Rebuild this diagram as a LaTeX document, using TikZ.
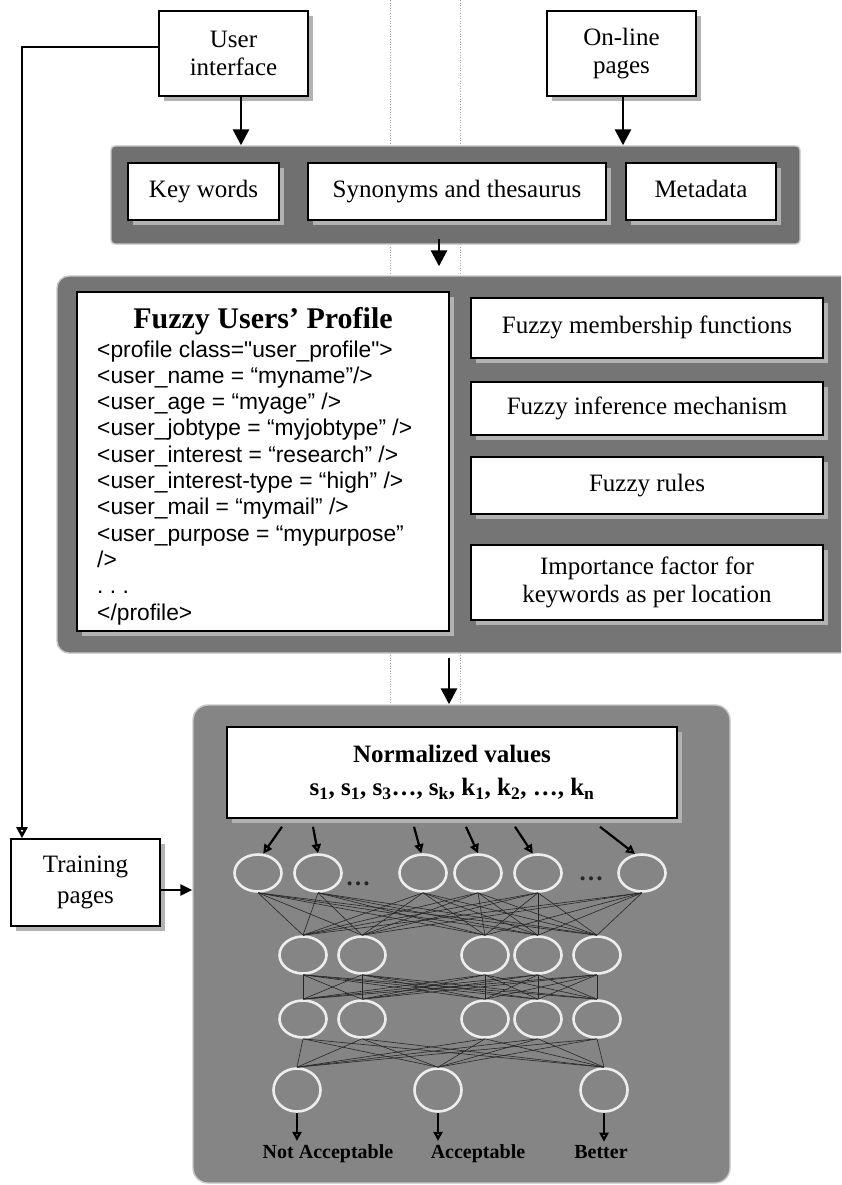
\documentclass[tikz,border=0pt]{standalone}
\usepackage{fontspec}
\setmainfont{Liberation Serif}
\newfontfamily\arialfont{Liberation Sans}
\usetikzlibrary{arrows.meta,shapes.geometric,shadows,calc}
\definecolor{panelA}{gray}{0.44}
\definecolor{panelB}{gray}{0.46}
\definecolor{panelC}{gray}{0.52}
\definecolor{shade}{gray}{0.70}
\definecolor{rim}{gray}{0.78}
\definecolor{ring}{gray}{0.93}
\tikzset{
  box/.style={draw=black, line width=1.6pt, fill=white, inner sep=0pt, align=center,
    font=\fontsize{25pt}{28.75pt}\selectfont,
    drop shadow={shadow xshift=5pt, shadow yshift=-5pt, fill=shade, opacity=1}},
  sline/.style={text height=17pt, text depth=6pt},
  panel/.style={draw=rim, line width=1.4pt, inner sep=0pt},
  neuron/.style={ellipse, draw=ring, line width=2.6pt, minimum width=47pt, minimum height=37pt, inner sep=0pt},
  outneuron/.style={neuron, minimum height=43pt},
  bigarrow/.style={line width=2.8pt, -{Triangle[width=16pt,length=16pt]}},
  medarrow/.style={line width=2.6pt, -{Triangle[width=11pt,length=12pt]}},
  openarrow/.style={line width=2.6pt, -{Triangle[open,width=11pt,length=11pt]}},
  smallarrow/.style={line width=2.2pt, -{Triangle[open,width=9pt,length=9pt]}},
  conn/.style={line width=0.6pt, draw=black!85},
  guide/.style={draw=black!35, line width=0.6pt, dotted},
  outlab/.style={font=\bfseries\fontsize{20pt}{22pt}\selectfont, inner sep=0pt, anchor=base},
  profline/.style={font=\arialfont\fontsize{22.8pt}{26.3pt}\selectfont, anchor=base west, inner sep=0pt},
  dotsnode/.style={font=\bfseries\fontsize{25pt}{25pt}\selectfont, inner sep=0pt, text=black!85}
}
\begin{document}
\begin{tikzpicture}[x=1pt,y=-1pt]
\path[use as bounding box] (0,0) rectangle (841,1185);
\clip (0,0) rectangle (841,1185);
\fill[white] (0,0) rectangle (841,1185);

% page guide lines
\draw[guide] (390,0) -- (390,705);
\draw[guide] (460,0) -- (460,705);

% panels
\node[panel, fill=panelA, rounded corners=4pt, minimum width=689pt, minimum height=98pt] (p1) at (455.5,195) {};
\node[panel, fill=panelB, rounded corners=12pt, minimum width=799pt, minimum height=377pt] (p2) at (456.5,464.5) {};
\node[panel, fill=panelC, rounded corners=15pt, minimum width=537pt, minimum height=478pt] (p3) at (461.5,944) {};

% top boxes
\node[box, minimum width=149pt, minimum height=85pt] (ui) at (233.5,53.5) {User\\interface};
\node[box, minimum width=149pt, minimum height=85pt] (ol) at (621.5,53.5) {On-line\\pages};

% panel 1 boxes
\node[box, sline, minimum width=151pt, minimum height=57pt] (kw) at (203.5,191.5) {Key words};
\node[box, sline, minimum width=298pt, minimum height=57pt] (syn) at (457,191.5) {Synonyms and thesaurus};
\node[box, sline, minimum width=150pt, minimum height=57pt] (meta) at (701,191.5) {Metadata};

% panel 2 boxes
\node[box, minimum width=372pt, minimum height=339pt] (prof) at (263,461.5) {};
\node[font=\bfseries\fontsize{30pt}{34pt}\selectfont, anchor=base, inner sep=0pt] (ptitle) at (263,328) {Fuzzy Users’ Profile};
\node[profline] (pl1) at (97,357) {<profile class="user\_profile">};
\node[profline] (pl2) at (97,383.3) {<user\_name = “myname”/>};
\node[profline] (pl3) at (97,409.6) {<user\_age = “myage” />};
\node[profline] (pl4) at (97,435.9) {<user\_jobtype = “myjobtype” />};
\node[profline] (pl5) at (97,462.2) {<user\_interest = “research” />};
\node[profline] (pl6) at (97,488.5) {<user\_interest-type = “high” />};
\node[profline] (pl7) at (97,514.8) {<user\_mail = “mymail” />};
\node[profline] (pl8) at (97,541.1) {<user\_purpose = “mypurpose”};
\node[profline] (pl9) at (97,567.4) {/>};
\node[profline] (pl10) at (97,593.7) {.\ .\ .};
\node[profline] (pl11) at (97,620) {</profile>};

\node[box, sline, minimum width=352pt, minimum height=60pt] (fm) at (647,328) {Fuzzy membership functions};
\node[box, sline, minimum width=352pt, minimum height=53pt] (fi) at (647,408.5) {Fuzzy inference mechanism};
\node[box, sline, minimum width=352pt, minimum height=57pt] (fr) at (647,485.5) {Fuzzy rules};
\node[box, minimum width=352pt, minimum height=75pt] (imp) at (647,582.5) {Importance factor for\\keywords as per location};

% training pages
\node[box, minimum width=149pt, minimum height=87pt, font=\fontsize{25pt}{31pt}\selectfont] (train) at (85.5,882.5) {Training\\pages};

% normalized values
\node[box, minimum width=450pt, minimum height=91pt, font=\bfseries\fontsize{25pt}{33pt}\selectfont] (norm) at (452,772.5)
  {Normalized values\\s\textsubscript{1}, s\textsubscript{1}, s\textsubscript{3}\ldots, s\textsubscript{k}, k\textsubscript{1}, k\textsubscript{2}, \ldots, k\textsubscript{n}};

% neurons
\node[neuron] (n11) at (258,873) {};
\node[neuron] (n12) at (318,873) {};
\node[neuron] (n13) at (423,873) {};
\node[neuron] (n14) at (478,873) {};
\node[neuron] (n15) at (538,873) {};
\node[neuron] (n16) at (642,873) {};
\node[dotsnode] (d1) at (358,884) {…};
\node[dotsnode] (d2) at (591,879) {…};

\node[neuron] (n21) at (303,955) {};
\node[neuron] (n22) at (362,955) {};
\node[neuron] (n23) at (485,955) {};
\node[neuron] (n24) at (538,955) {};
\node[neuron] (n25) at (597,955) {};

\node[neuron] (n31) at (303,1019) {};
\node[neuron] (n32) at (362,1019) {};
\node[neuron] (n33) at (485,1019) {};
\node[neuron] (n34) at (538,1019) {};
\node[neuron] (n35) at (597,1019) {};

\node[outneuron] (n41) at (297,1090) {};
\node[outneuron] (n42) at (438,1090) {};
\node[outneuron] (n43) at (604,1090) {};

\node[outlab] (o1) at (328,1158) {Not Acceptable};
\node[outlab] (o2) at (478,1158) {Acceptable};
\node[outlab] (o3) at (601,1158) {Better};

% connections between layers
\foreach \i in {1,...,6}{\foreach \j in {1,...,5}{\draw[conn] (n1\i.south) -- (n2\j.north);}}
\foreach \i in {1,...,5}{\foreach \j in {1,...,5}{\draw[conn] (n2\i.south) -- (n3\j.north);}}
\foreach \i in {1,...,5}{\foreach \j in {1,...,3}{\draw[conn] (n3\i.south) -- (n4\j.north);}}

% main arrows
\draw[bigarrow] ([xshift=7.5pt]ui.south) -- ([xshift=7.5pt]ui.south |- p1.north);
\draw[bigarrow] ([xshift=1.5pt]ol.south) -- ([xshift=1.5pt]ol.south |- p1.north);
\draw[bigarrow] ($(p1.south)+(-16.5pt,6pt)$) -- ($(p2.north)+(-17.5pt,9pt)$);
\draw[bigarrow] ($(p2.south)+(-7.5pt,-4pt)$) -- ($(p3.north)+(-12.5pt,0pt)$);
\draw[openarrow] ([yshift=6.5pt]ui.west) -| ([xshift=-63.5pt]train.north);
\draw[medarrow] ([yshift=-7.5pt]train.east) -- ([yshift=-7.5pt]train.east -| p3.west);

% arrows into input layer
\draw[smallarrow] ($(norm.south)+(-170pt,-8pt)$) -- (n11.75);
\draw[smallarrow] ($(norm.south)+(-139pt,-8pt)$) -- (n12.north);
\draw[smallarrow] ($(norm.south)+(-38pt,-8pt)$) -- (n13.95);
\draw[smallarrow] ($(norm.south)+(14pt,-8pt)$) -- (n14.north);
\draw[smallarrow] ($(norm.south)+(63pt,-8pt)$) -- (n15.105);
\draw[smallarrow] ($(norm.south)+(148pt,-8pt)$) -- (n16.110);

% output arrows
\draw[smallarrow] (n41.south) -- ([yshift=3pt]n41.south |- o1.north);
\draw[smallarrow] (n42.south) -- ([yshift=3pt]n42.south |- o2.north);
\draw[smallarrow] (n43.south) -- ([yshift=3pt]n43.south |- o3.north);
\end{tikzpicture}
\end{document}
